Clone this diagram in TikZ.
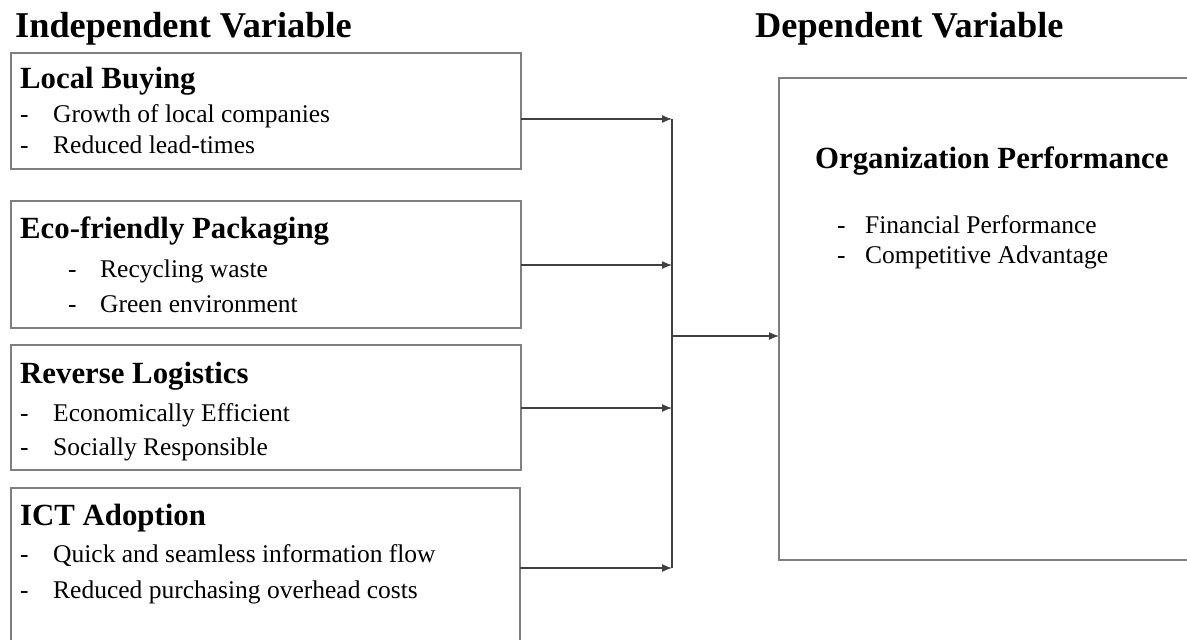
\documentclass[tikz,border=0pt]{standalone}
\usepackage{fontspec}
\setmainfont{Liberation Serif}
\usetikzlibrary{arrows.meta}
\definecolor{boxgray}{HTML}{7F7F7F}
\definecolor{linegray}{HTML}{404040}
\begin{document}
\begin{tikzpicture}[x=1pt,y=-1pt,
  box/.style={draw=boxgray, line width=1.3pt, rectangle, anchor=north west, inner sep=0pt, outer sep=0pt},
  txt/.style={anchor=base west, inner sep=0pt, font=\fontsize{25.5}{30}\selectfont},
  head/.style={anchor=base west, inner sep=0pt, font=\fontsize{30.8}{36}\selectfont\bfseries},
  ttl/.style={anchor=base west, inner sep=0pt, font=\fontsize{36.3}{42}\selectfont\bfseries},
  conn/.style={draw=linegray, line width=1.3pt},
  arr/.style={conn, -{Latex[length=10pt,width=8pt]}}]
\useasboundingbox (0,0) rectangle (1187,640);
\clip (0,0) rectangle (1187,640);
% titles
\node[ttl] (tind) at (15,37) {Independent Variable};
\node[ttl] (tdep) at (755,37) {Dependent Variable};
% boxes
\node[box, minimum width=510pt, minimum height=116pt] (b1) at (11,53) {};
\node[box, minimum width=510pt, minimum height=127pt] (b2) at (11,201) {};
\node[box, minimum width=510pt, minimum height=125pt] (b3) at (11,345) {};
\node[box, minimum width=509pt, minimum height=180pt] (b4) at (11,488) {};
\node[box, minimum width=440pt, minimum height=482pt] (op) at (779,78) {};
% box 1
\node[head] (h1) at (20,88) {Local Buying};
\node[txt] (d11) at (20,122) {-};
\node[txt] (t11) at (53,122) {Growth of local companies};
\node[txt] (d12) at (20,153) {-};
\node[txt] (t12) at (53,153) {Reduced lead-times};
% box 2
\node[head] (h2) at (20,238) {Eco-friendly Packaging};
\node[txt] (d21) at (68,277) {-};
\node[txt] (t21) at (100,277) {Recycling waste};
\node[txt] (d22) at (68,312) {-};
\node[txt] (t22) at (100,312) {Green environment};
% box 3
\node[head] (h3) at (20,383) {Reverse Logistics};
\node[txt] (d31) at (20,421) {-};
\node[txt] (t31) at (53,421) {Economically Efficient};
\node[txt] (d32) at (20,455) {-};
\node[txt] (t32) at (53,455) {Socially Responsible};
% box 4
\node[head] (h4) at (20,525) {ICT Adoption};
\node[txt] (d41) at (20,562) {-};
\node[txt] (t41) at (53,562) {Quick and seamless information flow};
\node[txt] (d42) at (20,598) {-};
\node[txt] (t42) at (53,598) {Reduced purchasing overhead costs};
% right box
\node[head] (h5) at (815,168) {Organization Performance};
\node[txt] (d51) at (837,233) {-};
\node[txt] (t51) at (865,233) {Financial Performance};
\node[txt] (d52) at (837,263) {-};
\node[txt] (t52) at (865,263) {Competitive Advantage};
% connectors
\coordinate (j1) at (672,119);
\coordinate (j2) at (672,265);
\coordinate (j3) at (672,408);
\coordinate (j4) at (672,568);
\coordinate (jm) at (672,336);
\draw[conn] (j1) -- (j4);
\draw[arr] (b1.east |- j1) -- (j1);
\draw[arr] (b2.east |- j2) -- (j2);
\draw[arr] (b3.east |- j3) -- (j3);
\draw[arr] (b4.east |- j4) -- (j4);
\draw[arr] (jm) -- (op.west |- jm);
\end{tikzpicture}
\end{document}
